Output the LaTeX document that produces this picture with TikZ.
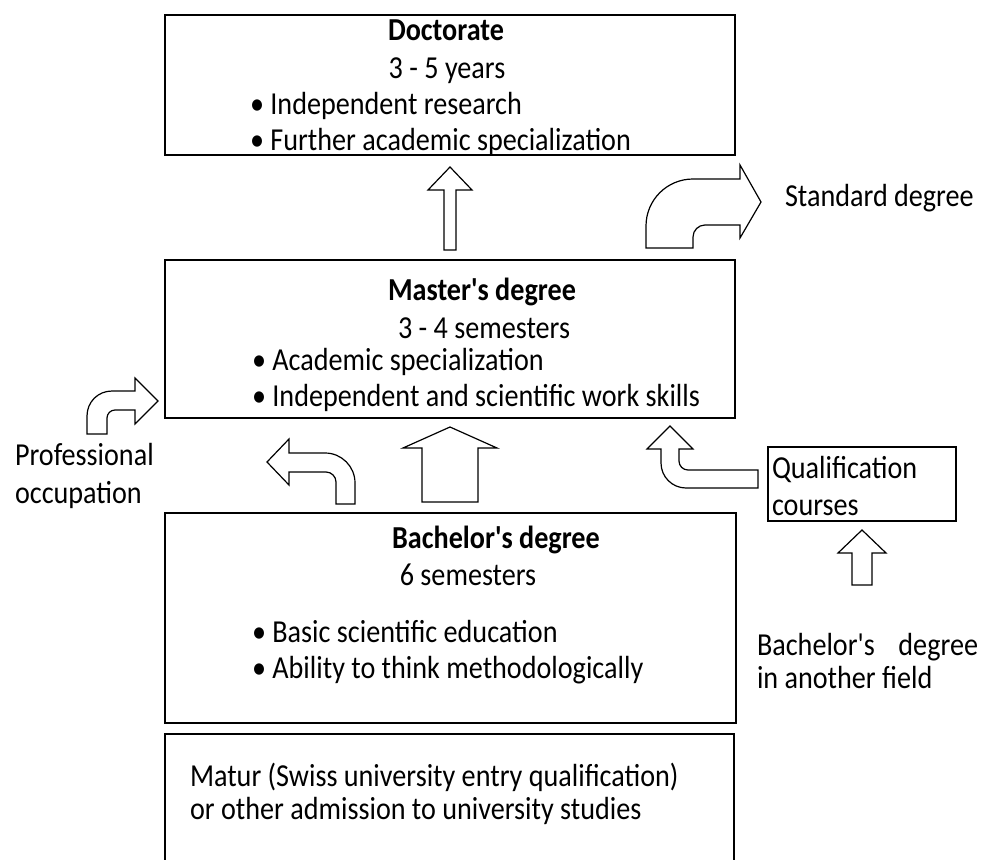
\documentclass[tikz,border=0pt]{standalone}
\usepackage{fontspec}
\setmainfont{Carlito}[FakeStretch=0.88, Ligatures=TeXOff]
\newcommand\fsz{\fontsize{32}{38}\selectfont}
\begin{document}
\begin{tikzpicture}[x=1pt,y=-1pt,
  box/.style={draw, line width=1.3pt, inner sep=0pt, outer sep=0pt},
  blk/.style={draw, line width=1.2pt, fill=white, line join=miter},
  txt/.style={inner sep=0pt, outer sep=0pt, font=\fsz, anchor=base},
  ltxt/.style={txt, anchor=base west},
  btxt/.style={txt, font=\fsz\bfseries}]
\useasboundingbox (0,0) rectangle (981,859);

% boxes
\node[box, minimum width=570pt, minimum height=140pt] (doc) at (450,85) {};
\node[box, minimum width=570pt, minimum height=158pt] (mas) at (450,339) {};
\node[box, minimum width=571pt, minimum height=210pt] (bach) at (450.5,618) {};
\node[box, minimum width=188pt, minimum height=74pt] (qual) at (862,484) {};
\coordinate (matTL) at (165,734);
\coordinate (matTR) at (734,734);
\draw[line width=1.3pt] (165,860) -- (matTL) -- (matTR) -- (734,860);

% Doctorate text
\node[btxt] (docT) at (446,41) {Doctorate};
\node[txt] (docY) at (447,78) {3 - 5 years};
\node[ltxt] (docB1) at (250,114) {• Independent research};
\node[ltxt] (docB2) at (250,150) {• Further academic specialization};

% Master text
\node[btxt] (masT) at (482,300) {Master's degree};
\node[txt] (masY) at (484,338) {3 - 4 semesters};
\node[ltxt] (masB1) at (252,370) {• Academic specialization};
\node[ltxt] (masB2) at (252,406) {• Independent and scientific work skills};

% Bachelor text
\node[btxt] (bacT) at (496,548) {Bachelor's degree};
\node[txt] (bacY) at (468,585) {6 semesters};
\node[ltxt] (bacB1) at (252,642) {• Basic scientific education};
\node[ltxt] (bacB2) at (252,678) {• Ability to think methodologically};

% Matur text
\node[ltxt] (mat1) at (190,786) {Matur (Swiss university entry qualification)};
\node[ltxt] (mat2) at (190,819) {or other admission to university studies};

% side labels
\node[ltxt] (prof1) at (15,465) {Professional};
\node[ltxt] (prof2) at (15,503) {occupation};
\node[ltxt] (std) at (785,206) {Standard degree};
\node[ltxt] (qual1) at (772,478) {Qualification};
\node[ltxt] (qual2) at (772,515) {courses};
\node[ltxt] (oth1) at (757,655) {\makebox[221pt][s]{Bachelor's degree}};
\node[ltxt] (oth2) at (757,688) {in another field};

% straight block arrows
\draw[blk] (444,250) -- (444,190) -- (428,190) -- (450,167) -- (472,190) -- (456,190) -- (456,250) -- cycle;
\draw[blk] (422,502) -- (422,448) -- (403,448) -- (450,427) -- (497,448) -- (478,448) -- (478,502) -- cycle;
\draw[blk] (852,585) -- (852,553) -- (838,553) -- (862,530) -- (886,553) -- (872,553) -- (872,585) -- cycle;

% Standard degree curved arrow
\draw[blk] (646,248) -- (646,226) .. controls (646,200) and (667,179) .. (693,179)
  -- (740,179) -- (740,165) -- (761,202) -- (740,238) -- (740,225) -- (705,225)
  .. controls (698.4,225) and (693,230.4) .. (693,237) -- (693,248) -- cycle;

% Professional occupation arrow (to Master)
\draw[blk] (87,434) -- (87,416) .. controls (87,402) and (98,391) .. (112,391)
  -- (135,391) -- (135,378) -- (158,401) -- (135,424) -- (135,410) -- (115,410)
  .. controls (110.6,410) and (107,413.6) .. (107,418) -- (107,434) -- cycle;

% Bachelor -> Professional occupation arrow
\draw[blk] (355,504) -- (355,483) .. controls (355,466.4) and (341.6,453) .. (325,453)
  -- (289,453) -- (289,439) -- (267,462) -- (289,485) -- (289,472) -- (326,472)
  .. controls (331.5,472) and (336,476.5) .. (336,482) -- (336,504) -- cycle;

% Qualification -> Master arrow
\draw[blk] (758,470) -- (758,488) -- (686,488) .. controls (672.2,488) and (661,476.8) .. (661,463)
  -- (661,449) -- (647,449) -- (670,426) -- (693,449) -- (679,449) -- (679,461)
  .. controls (679,466) and (683,470) .. (688,470) -- cycle;
\end{tikzpicture}
\end{document}
